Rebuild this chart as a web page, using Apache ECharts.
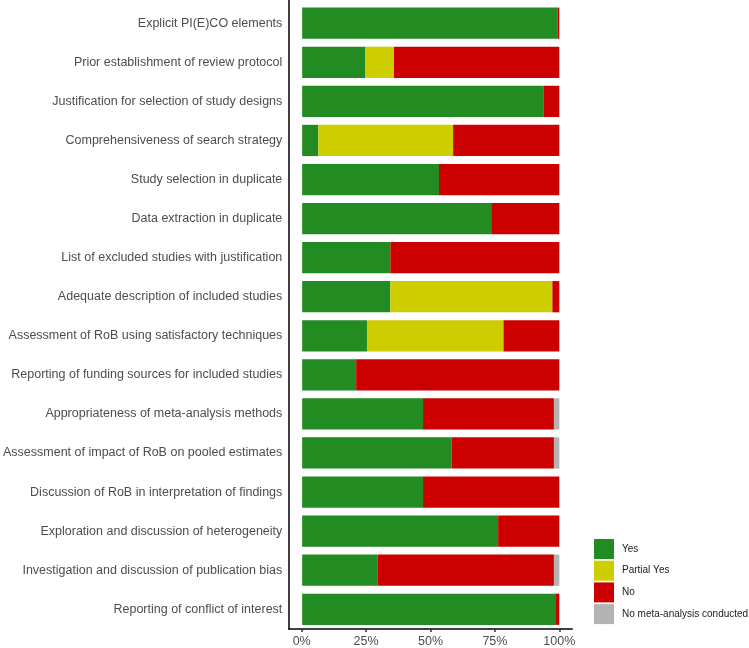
<!DOCTYPE html>
<html>
<head>
<meta charset="utf-8">
<script src="https://cdn.jsdelivr.net/npm/echarts@6/dist/echarts.min.js"></script>
<style>html,body{margin:0;padding:0;background:#fff}#c{width:749px;height:648px}</style>
</head>
<body>
<div id="c"></div>
<script>
const categories = [
  "Explicit PI(E)CO elements",
  "Prior establishment of review protocol",
  "Justification for selection of study designs",
  "Comprehensiveness of search strategy",
  "Study selection in duplicate",
  "Data extraction in duplicate",
  "List of excluded studies with justification",
  "Adequate description of included studies",
  "Assessment of RoB using satisfactory techniques",
  "Reporting of funding sources for included studies",
  "Appropriateness of meta-analysis methods",
  "Assessment of impact of RoB on pooled estimates",
  "Discussion of RoB in interpretation of findings",
  "Exploration and discussion of heterogeneity",
  "Investigation and discussion of publication bias",
  "Reporting of conflict of interest"
];
const yes        = [99.4, 24.6, 93.8, 6.3, 53.2, 73.5, 34.3, 34.3, 25.2, 21.0, 47.0, 58.1, 47.0, 76.2, 29.4, 98.7];
const partialYes = [0, 11.1, 0, 52.4, 0, 0, 0, 63.0, 53.1, 0, 0, 0, 0, 0, 0, 0];
const no         = [0.6, 64.3, 6.2, 41.3, 46.8, 26.5, 65.7, 2.7, 21.7, 79.0, 50.9, 39.8, 53.0, 23.8, 68.5, 1.3];
const noMeta     = [0, 0, 0, 0, 0, 0, 0, 0, 0, 0, 2.1, 2.1, 0, 0, 2.1, 0];
const tickValues = [0, 25, 50, 75, 100];
const seriesNames = ["Yes", "Partial Yes", "No", "No meta-analysis conducted"];

const colors = ["#228B22", "#CDCD00", "#CC0000", "#B3B3B3"];
const font = "'Liberation Sans', Arial, sans-serif";
const chart = echarts.init(document.getElementById('c'), null, {renderer: 'canvas'});
const seriesData = [yes, partialYes, no, noMeta];

chart.setOption({
  animation: false,
  color: colors,
  grid: [
    {left: 288.8, right: 176.8, top: 3.7, height: 625.1, containLabel: false},
    {left: 288.8, right: 176.8, top: 0, height: 632.3, containLabel: false}
  ],
  xAxis: [
    {gridIndex: 0, type: 'value', min: -5, max: 105, show: false},
    {gridIndex: 1, type: 'value', min: -5, max: 105,
     axisLine: {show: true, onZero: false, lineStyle: {color: '#000', width: 1.5}},
     axisTick: {show: true, customValues: tickValues, length: 3, lineStyle: {color: '#333', width: 1.5}},
     axisLabel: {show: true, customValues: tickValues, formatter: v => v + '%', margin: 6,
                 color: '#4D4D4D', fontSize: 12.5, fontFamily: font},
     splitLine: {show: false}}
  ],
  yAxis: [
    {gridIndex: 0, type: 'category', data: categories, inverse: true,
     axisLine: {show: false}, axisTick: {show: false},
     axisLabel: {margin: 7, color: '#4D4D4D', fontSize: 12.5, fontFamily: font},
     splitLine: {show: false}},
    {gridIndex: 1, type: 'value', min: 0, max: 1,
     axisLine: {show: true, onZero: false, lineStyle: {color: '#000', width: 1.5}},
     axisTick: {show: false}, axisLabel: {show: false}, splitLine: {show: false}}
  ],
  legend: {
    orient: 'vertical', left: 594, top: 539, padding: 0,
    itemWidth: 20, itemHeight: 20, itemGap: 1.7, icon: 'rect',
    data: seriesNames,
    textStyle: {fontSize: 10, color: '#1A1A1A', fontFamily: font, padding: [0, 0, 0, 3]}
  },
  series: seriesNames.map((name, i) => ({
    name: name, type: 'bar', stack: 'total',
    xAxisIndex: 0, yAxisIndex: 0,
    barCategoryGap: '20%',
    data: seriesData[i],
    itemStyle: {color: colors[i]}
  }))
});
</script>
</body>
</html>
